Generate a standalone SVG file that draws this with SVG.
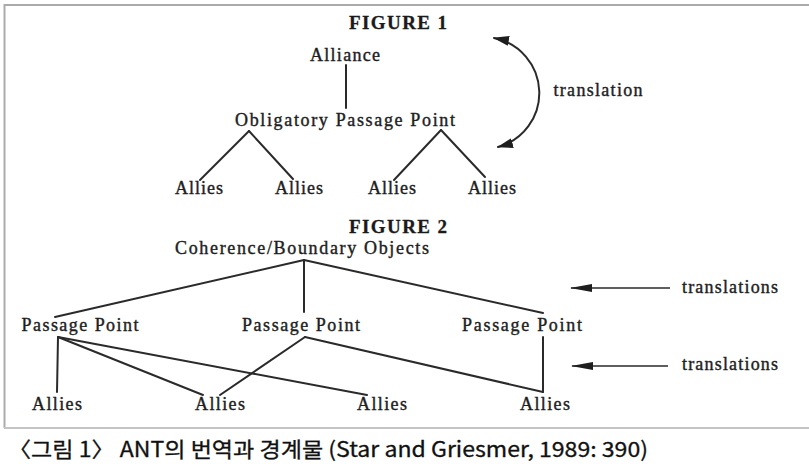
<svg xmlns="http://www.w3.org/2000/svg" width="809" height="464" viewBox="0 0 809 464">
  <style>
    .lbl { font-family: "Liberation Serif", "Times New Roman", serif; font-size: 18px; fill: #1e1e1e; stroke: #1e1e1e; stroke-width: 0.4; text-anchor: middle; }
    .fig { font-family: "Liberation Serif", "Times New Roman", serif; font-size: 19px; font-weight: bold; fill: #1a1a1a; stroke: #1a1a1a; stroke-width: 0.3; text-anchor: middle; }
    .edge { stroke: #2a2a2a; stroke-width: 2; fill: none; stroke-linecap: round; }
    .frame { stroke: #ababab; stroke-width: 2; fill: none; }
    .cap { font-family: "Noto Sans CJK KR", "Noto Sans", sans-serif; font-size: 21px; font-weight: normal; fill: #111; stroke: #111; stroke-width: 0.3; }
  </style>
  <defs>
    <marker id="ah" viewBox="0 0 22 8" refX="21" refY="4" markerWidth="22" markerHeight="8" markerUnits="userSpaceOnUse" orient="auto">
      <path d="M0,0 L22,4 L0,8 z" fill="#1e1e1e"/>
    </marker>
    <marker id="ahc" viewBox="0 0 16 10" refX="15" refY="5" markerWidth="16" markerHeight="10" markerUnits="userSpaceOnUse" orient="auto-start-reverse">
      <path d="M0,0 L16,5 L0,10 z" fill="#1e1e1e"/>
    </marker>
  </defs>

  <rect width="809" height="464" fill="#ffffff"/>
  <g id="frame">
    <path class="frame" d="M4.5,428 L4.5,5 L809,5"/>
    <line x1="4" y1="428" x2="809" y2="428" stroke="#c4c4c4" stroke-width="2"/>
  </g>

  <g id="connectors">
    <!-- Figure 1 -->
    <line class="edge" x1="346" y1="65" x2="346" y2="108"/>
    <line class="edge" x1="249" y1="131" x2="200" y2="180"/>
    <line class="edge" x1="249" y1="131" x2="293" y2="179"/>
    <line class="edge" x1="441" y1="130" x2="394" y2="180"/>
    <line class="edge" x1="441" y1="130" x2="485" y2="177"/>
    <path class="edge" d="M494,38 A56,56 0 0 1 498,147" marker-start="url(#ahc)" marker-end="url(#ahc)"/>
    <!-- Figure 2 -->
    <line class="edge" x1="304" y1="260" x2="55" y2="317"/>
    <line class="edge" x1="304" y1="260" x2="304" y2="312"/>
    <line class="edge" x1="304" y1="260" x2="543" y2="313"/>
    <line class="edge" x1="58" y1="337" x2="57" y2="392"/>
    <line class="edge" x1="58" y1="337" x2="203" y2="395"/>
    <line class="edge" x1="58" y1="337" x2="367" y2="395"/>
    <line class="edge" x1="305" y1="337" x2="220" y2="395"/>
    <line class="edge" x1="305" y1="337" x2="543" y2="392"/>
    <line class="edge" x1="543" y1="337" x2="543" y2="392"/>
    <line x1="670" y1="288" x2="571" y2="288" stroke="#2a2a2a" stroke-width="1.6" marker-end="url(#ah)"/>
    <line x1="668" y1="366" x2="572" y2="366" stroke="#2a2a2a" stroke-width="1.6" marker-end="url(#ah)"/>
  </g>

  <g id="figure1-title"><text class="fig" x="398" y="29" textLength="98">FIGURE 1</text></g>
  <g id="alliance"><text class="lbl" x="345" y="61" textLength="70">Alliance</text></g>
  <g id="opp"><text class="lbl" x="345" y="126" textLength="220">Obligatory Passage Point</text></g>
  <g id="allies-1a"><text class="lbl" x="199" y="194" textLength="48">Allies</text></g>
  <g id="allies-1b"><text class="lbl" x="299" y="194" textLength="48">Allies</text></g>
  <g id="allies-1c"><text class="lbl" x="392" y="194" textLength="48">Allies</text></g>
  <g id="allies-1d"><text class="lbl" x="492" y="194" textLength="48">Allies</text></g>
  <g id="translation"><text class="lbl" x="598" y="96" textLength="89">translation</text></g>

  <g id="figure2-title"><text class="fig" x="398" y="233" textLength="98">FIGURE 2</text></g>
  <g id="coherence"><text class="lbl" x="302" y="254" textLength="254">Coherence/Boundary Objects</text></g>
  <g id="pp1"><text class="lbl" x="80" y="331" textLength="117">Passage Point</text></g>
  <g id="pp2"><text class="lbl" x="301" y="331" textLength="118">Passage Point</text></g>
  <g id="pp3"><text class="lbl" x="522" y="331" textLength="120">Passage Point</text></g>
  <g id="translations-1"><text class="lbl" x="730" y="293" textLength="96">translations</text></g>
  <g id="translations-2"><text class="lbl" x="730" y="370" textLength="96">translations</text></g>
  <g id="allies-2a"><text class="lbl" x="57" y="410" textLength="50">Allies</text></g>
  <g id="allies-2b"><text class="lbl" x="220" y="410" textLength="50">Allies</text></g>
  <g id="allies-2c"><text class="lbl" x="382" y="410" textLength="50">Allies</text></g>
  <g id="allies-2d"><text class="lbl" x="545" y="410" textLength="50">Allies</text></g>

  <g id="caption"><text class="cap" x="8" y="457" textLength="640" lengthAdjust="spacingAndGlyphs">〈그림 1〉 ANT의 번역과 경계물 (Star and Griesmer, 1989: 390)</text></g>
</svg>
